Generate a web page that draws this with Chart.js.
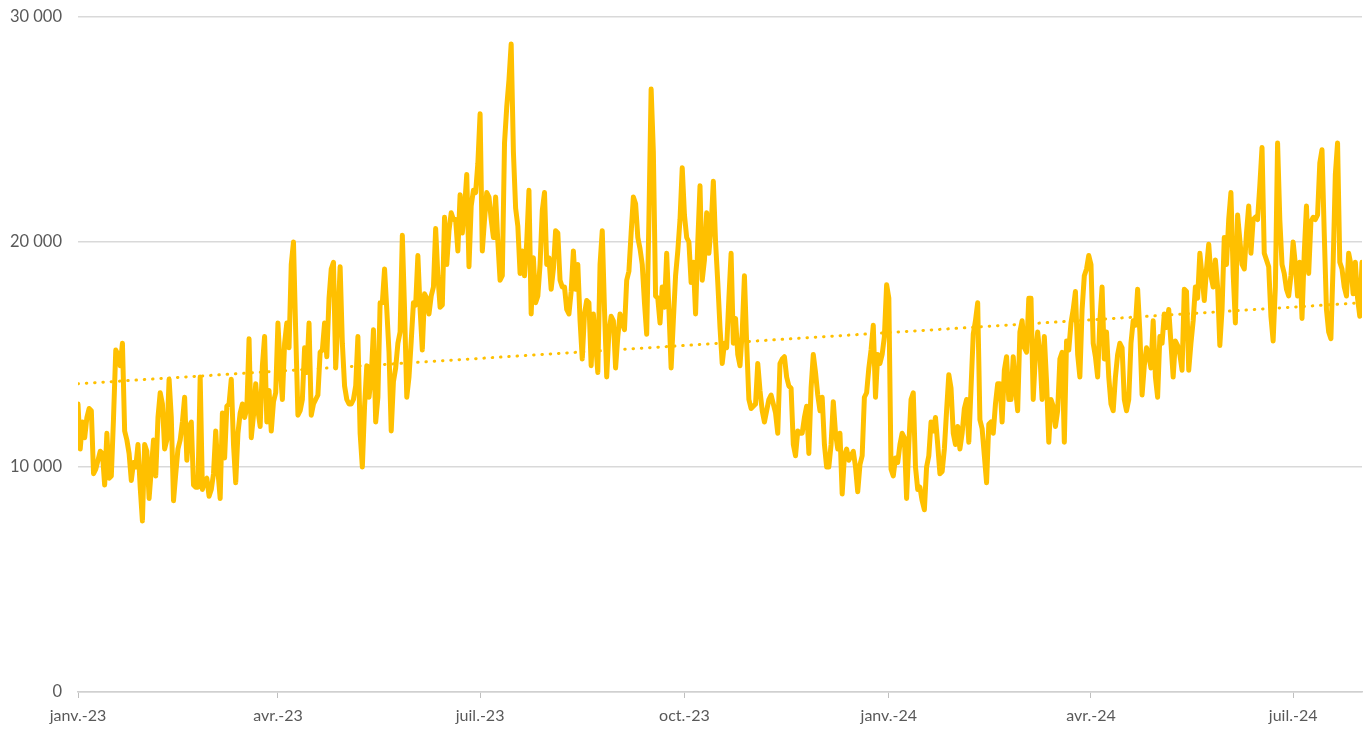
<!DOCTYPE html>
<html lang="fr">
<head>
<meta charset="utf-8">
<title>Série quotidienne</title>
<script src="https://cdn.jsdelivr.net/npm/chart.js@4.4.1/dist/chart.umd.min.js"></script>
<style>
  html, body { margin: 0; padding: 0; background: #ffffff; }
  #wrap { width: 1366px; height: 729px; position: relative; }
</style>
</head>
<body>
<div id="wrap"><canvas id="dailyChart"></canvas></div>
<script>
// premier jour de la série (1 point par jour)
const startDate = "2023-01-01";

// valeurs journalières
const dailyValues = [
  12800, 10800, 12000, 11300, 12200, 12600, 12500, 9700, 9900, 10300,
  10700, 10600, 9200, 11500, 9500, 9600, 12200, 15200, 15000, 14500,
  15500, 11600, 11200, 10600, 9400, 10200, 10000, 11000, 9100, 7600,
  11000, 10700, 8600, 9900, 11200, 9600, 12200, 13300, 12800, 10800,
  11200, 13900, 12200, 8500, 9700, 10800, 11200, 12000, 13100, 10300,
  11800, 12000, 9200, 9100, 9100, 14000, 9000, 9400, 9500, 8700,
  9000, 9700, 11600, 9800, 8600, 12400, 10400, 12700, 12800, 13900,
  11000, 9300, 11500, 12400, 12800, 12200, 12600, 15700, 11300, 12300,
  13700, 12500, 11800, 14500, 15800, 12000, 13400, 11600, 12900, 13300,
  16400, 14500, 13000, 15500, 16400, 15300, 19000, 20000, 16000, 12300,
  12500, 13000, 15300, 14200, 16400, 12300, 12800, 13000, 13200, 15100,
  15200, 16400, 14900, 17500, 18800, 19100, 14400, 16500, 18900, 15500,
  13600, 13000, 12800, 12800, 13000, 13600, 15800, 11500, 10000, 12700,
  14500, 13100, 14000, 16100, 12000, 13100, 17300, 17300, 18800, 17000,
  15100, 11600, 13800, 14400, 15500, 16000, 20300, 17000, 13100, 14000,
  15600, 17300, 17200, 19400, 17000, 15200, 17700, 17500, 16800, 17600,
  18000, 20600, 18500, 17100, 17200, 21100, 19000, 20500, 21300, 21000,
  21000, 19600, 22100, 20400, 21500, 23000, 18900, 21600, 22300, 22200,
  23500, 25700, 19600, 21000, 22200, 22000, 21000, 20200, 22000, 20000,
  18300, 18500, 24400, 26000, 27200, 28800, 24000, 21500, 20700, 18600,
  19600, 18500, 20000, 22300, 16800, 19300, 17300, 17600, 19000, 21400,
  22200, 19000, 19300, 17900, 18800, 20500, 20400, 18300, 18000, 18000,
  17000, 16800, 17800, 19600, 17900, 19000, 16500, 14800, 16800, 17400,
  17300, 14500, 16800, 15500, 14200, 19000, 20500, 17000, 14000, 16000,
  16700, 16500, 14400, 15800, 16800, 16400, 16100, 18300, 18700, 20400,
  22000, 21700, 20200, 19700, 19000, 17300, 15900, 21000, 26800, 24000,
  17600, 17500, 16400, 18000, 17100, 19500, 17000, 14400, 16500, 18500,
  19600, 21000, 23300, 21200, 20200, 20000, 18200, 19100, 16800, 20000,
  22500, 18300, 19200, 21300, 19500, 20700, 22700, 20000, 18200, 16200,
  14600, 15500, 15300, 17500, 19500, 15500, 16600, 15000, 14500, 16000,
  18500, 15500, 13000, 12600, 12700, 12800, 14600, 13400, 12500, 12000,
  12500, 13000, 13200, 12800, 12400, 11500, 14600, 14800, 14900, 14000,
  13600, 13500, 11000, 10500, 11600, 11500, 11500, 12200, 12700, 10600,
  13500, 15000, 14200, 13200, 12500, 13100, 11000, 10000, 10000, 11000,
  12900, 11500, 10800, 11500, 8800, 10500, 10800, 10300, 10500, 10700,
  10000, 8900, 10100, 10500, 13100, 13300, 14400, 15200, 16300, 13100,
  15000, 14600, 15000, 15800, 18100, 17500, 9900, 9600, 10400, 10200,
  11000, 11500, 11300, 8600, 11000, 13000, 13300, 10000, 9000, 9100,
  8500, 8100, 10000, 10500, 12000, 11600, 12200, 11000, 9700, 9800,
  10800, 12500, 14100, 13500, 11500, 11000, 11800, 10800, 11500, 12600,
  13000, 11100, 13500, 15900, 16500, 17300, 12100, 11700, 10500, 9300,
  11900, 12000, 11500, 12800, 13700, 13700, 12000, 14300, 14900, 13000,
  13000, 14900, 13500, 12500, 16000, 16500, 15300, 15100, 17500, 17500,
  13000, 15000, 16000, 15000, 13000, 15800, 13800, 11100, 13000, 12700,
  11800, 12500, 14800, 15100, 11100, 15600, 15200, 16400, 17000, 17800,
  15000, 14000, 17000, 18500, 18800, 19400, 19000, 15500, 14900, 14000,
  16500, 18000, 14800, 16000, 14000, 12800, 12500, 14000, 15000, 15500,
  15300, 13000, 12500, 13000, 15500, 16500, 16300, 17900, 16000, 13200,
  14500, 15300, 15000, 14400, 16500, 14000, 13100, 15800, 15500, 16800,
  16200, 17000, 15500, 14000, 15600, 15400, 15000, 14300, 17900, 17800,
  14300, 15500, 16500, 18000, 17500, 19500, 18500, 17400, 18800, 19900,
  18500, 18000, 19200, 18000, 15400, 17000, 20200, 19000, 21000, 22200,
  18600, 16400, 21200, 20100, 19000, 18800, 20400, 21600, 19500, 21000,
  21100, 21000, 22500, 24200, 19500, 19200, 18900, 16700, 15600, 18000,
  24400, 21000, 19000, 18600, 17900, 17600, 18500, 20000, 19000, 17600,
  19100, 16600, 19500, 21600, 18600, 20900, 21100, 21000, 21200, 23500,
  24100, 20400, 17000, 16000, 15700, 19000, 23000, 24400, 19100, 18800,
  18000, 17600, 19500, 19000, 17700, 19100, 17500, 16700, 19100
];

// tendance linéaire : valeur au premier et au dernier jour
const trendValues = [13700, 17300];

// graduations de l'axe des abscisses
const xTickDates = ["2023-01-01", "2023-04-01", "2023-07-01", "2023-10-01", "2024-01-01", "2024-04-01", "2024-07-01"];
const xTickLabels = ["janv.-23", "avr.-23", "juil.-23", "oct.-23", "janv.-24", "avr.-24", "juil.-24"];

// axe des ordonnées
const yMin = 0;
const yMax = 30000;
const yStep = 10000;

const gold = "#FFC000";
const labelColor = "#595959";
const gridColor = "#d9d9d9";

function dayIndex(dateStr) {
  return Math.round((Date.parse(dateStr) - Date.parse(startDate)) / 86400000);
}

function formatThousands(v) {
  return String(v).replace(/\B(?=(\d{3})+(?!\d))/g, " ");
}

const lastDay = dailyValues.length - 1;
const tickDays = xTickDates.map(dayIndex);

const seriesPoints = dailyValues.map((v, i) => ({ x: i, y: v }));
const trendPoints = [
  { x: 0, y: trendValues[0] },
  { x: lastDay, y: trendValues[1] }
];

const ctx = document.getElementById("dailyChart").getContext("2d");

const chart = new Chart(ctx, {
  type: "line",
  data: {
    datasets: [
      {
        label: "Tendance",
        data: trendPoints,
        borderColor: gold,
        borderWidth: 3,
        borderDash: [0.5, 7.8],
        borderCapStyle: "round",
        pointRadius: 0,
        fill: false
      },
      {
        label: "Série",
        data: seriesPoints,
        borderColor: gold,
        borderWidth: 5,
        borderJoinStyle: "round",
        borderCapStyle: "round",
        pointRadius: 0,
        tension: 0,
        fill: false
      }
    ]
  },
  options: {
    responsive: true,
    maintainAspectRatio: false,
    animation: false,
    layout: { padding: { top: 17, right: 4, left: 0, bottom: 0 } },
    plugins: {
      legend: { display: false },
      tooltip: { enabled: false }
    },
    scales: {
      x: {
        type: "linear",
        min: 0,
        max: lastDay,
        afterBuildTicks: (scale) => {
          scale.ticks = tickDays.map(d => ({ value: d }));
        },
        afterFit: (scale) => { scale.height = 37; },
        grid: {
          drawOnChartArea: false,
          drawTicks: true,
          tickLength: 6,
          color: "#bfbfbf",
          lineWidth: 1
        },
        border: { display: true, color: "#d0d0d0", width: 1.5 },
        ticks: {
          autoSkip: false,
          maxRotation: 0,
          padding: 8,
          color: labelColor,
          font: { family: "Lato", size: 16 },
          callback: (value, index) => xTickLabels[index]
        }
      },
      y: {
        min: yMin,
        max: yMax,
        afterFit: (scale) => {
          // largeur fixe et pas de marge auto au-dessus du libellé du haut
          scale.width = 78;
          scale.paddingTop = 0;
          scale.paddingBottom = 0;
        },
        grid: {
          drawTicks: false,
          color: gridColor,
          lineWidth: 1.5
        },
        border: { display: false },
        ticks: {
          stepSize: yStep,
          padding: 16,
          color: labelColor,
          font: { family: "Lato", size: 16.5 },
          callback: (value) => formatThousands(value)
        }
      }
    }
  }
});
</script>
</body>
</html>
